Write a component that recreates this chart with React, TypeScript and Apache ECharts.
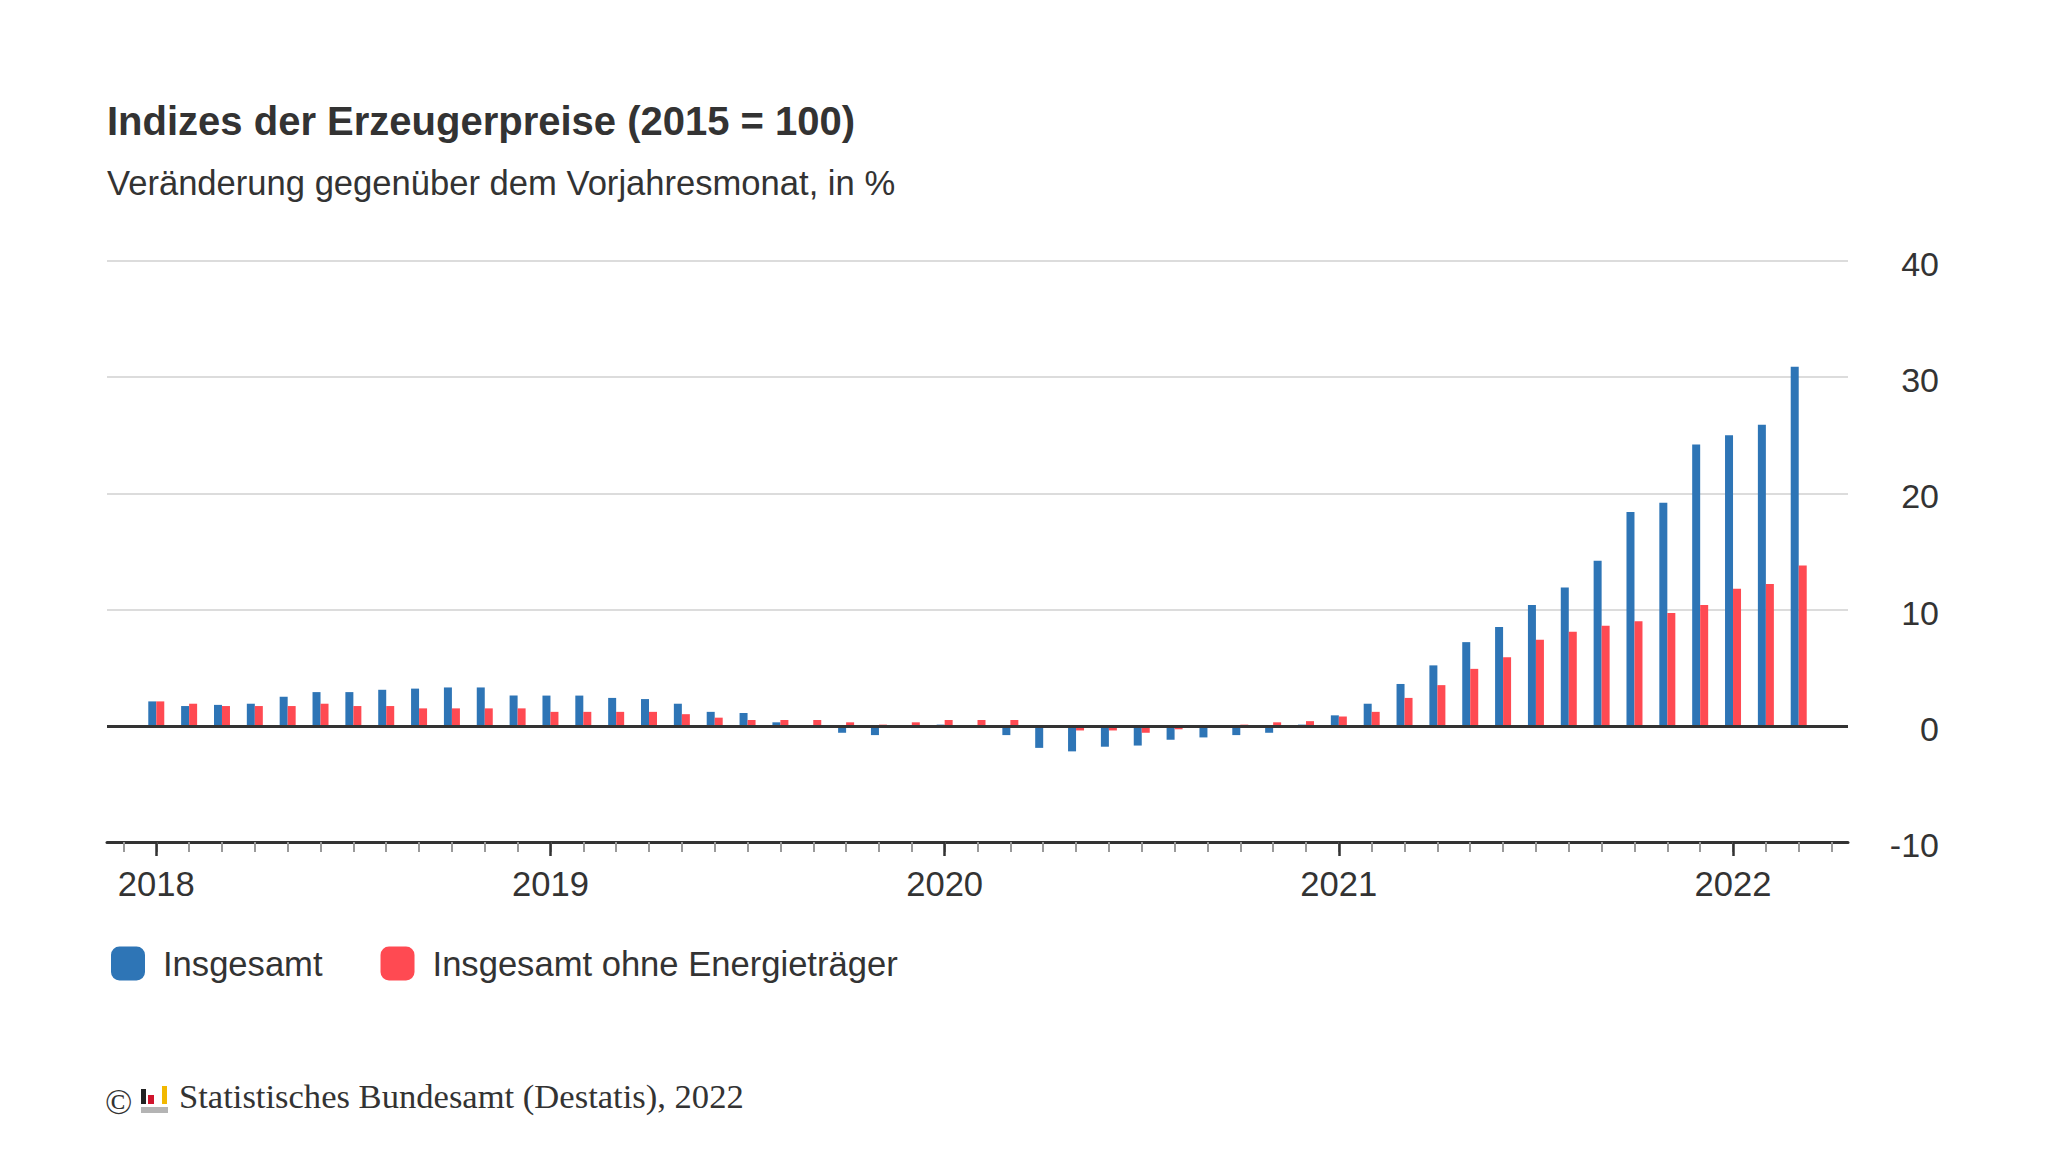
import React, { useEffect, useRef } from "react";
import * as echarts from "echarts";

// Monatskategorien (inkl. leerer Randmonate Dez 2017 und Apr 2022 für die Achse)
const months = [
  "2017-12",
  "2018-01", "2018-02", "2018-03", "2018-04", "2018-05", "2018-06",
  "2018-07", "2018-08", "2018-09", "2018-10", "2018-11", "2018-12",
  "2019-01", "2019-02", "2019-03", "2019-04", "2019-05", "2019-06",
  "2019-07", "2019-08", "2019-09", "2019-10", "2019-11", "2019-12",
  "2020-01", "2020-02", "2020-03", "2020-04", "2020-05", "2020-06",
  "2020-07", "2020-08", "2020-09", "2020-10", "2020-11", "2020-12",
  "2021-01", "2021-02", "2021-03", "2021-04", "2021-05", "2021-06",
  "2021-07", "2021-08", "2021-09", "2021-10", "2021-11", "2021-12",
  "2022-01", "2022-02", "2022-03",
  "2022-04",
];

// Jan 2018 – Mär 2022
const insgesamt = [
  2.1, 1.7, 1.8, 1.9, 2.5, 2.9, 2.9, 3.1, 3.2, 3.3, 3.3, 2.6,
  2.6, 2.6, 2.4, 2.3, 1.9, 1.2, 1.1, 0.3, -0.1, -0.6, -0.8, -0.1,
  0.1, -0.1, -0.8, -1.9, -2.2, -1.8, -1.7, -1.2, -1.0, -0.8, -0.6, 0.1,
  0.9, 1.9, 3.6, 5.2, 7.2, 8.5, 10.4, 11.9, 14.2, 18.4, 19.2, 24.2,
  25.0, 25.9, 30.9,
];

const ohneEnergie = [
  2.1, 1.9, 1.7, 1.7, 1.7, 1.9, 1.7, 1.7, 1.5, 1.5, 1.5, 1.5,
  1.2, 1.2, 1.2, 1.2, 1.0, 0.7, 0.5, 0.5, 0.5, 0.3, 0.1, 0.3,
  0.5, 0.5, 0.5, 0.0, -0.4, -0.4, -0.6, -0.3, 0.0, 0.1, 0.3, 0.4,
  0.8, 1.2, 2.4, 3.5, 4.9, 5.9, 7.4, 8.1, 8.6, 9.0, 9.7, 10.4,
  11.8, 12.2, 13.8,
];

const seriesNames = ["Insgesamt", "Insgesamt ohne Energieträger"];
const colors = ["#2e75b6", "#ff4a52"];

const SANS = "'Liberation Sans', Arial, Helvetica, sans-serif";
const SERIF = "'Liberation Serif', 'Times New Roman', serif";

const isJanuary = (_i: number, v: string) => v.endsWith("-01");

const App: React.FC = () => {
  const chartRef = useRef<HTMLDivElement>(null);

  useEffect(() => {
    if (!chartRef.current) return;
    const chart = echarts.init(chartRef.current, undefined, { renderer: "svg" });

    const pad = (arr: number[]) => ["-", ...arr, "-"];

    const option: any = {
      animation: false,
      backgroundColor: "#ffffff",
      title: {
        text: "Indizes der Erzeugerpreise (2015 = 100)",
        subtext: "Veränderung gegenüber dem Vorjahresmonat, in %",
        left: 107,
        top: 97,
        padding: 0,
        itemGap: 18,
        textStyle: {
          fontFamily: SANS,
          fontSize: 40,
          fontWeight: "bold",
          color: "#333333",
          lineHeight: 48,
        },
        subtextStyle: {
          fontFamily: SANS,
          fontSize: 34.6,
          color: "#333333",
          lineHeight: 40,
        },
      },
      legend: {
        left: 111,
        top: 946,
        padding: 0,
        itemWidth: 34,
        itemHeight: 34,
        itemGap: 58,
        icon: "roundRect",
        itemStyle: { borderRadius: 3 },
        textStyle: {
          fontFamily: SANS,
          fontSize: 34.6,
          color: "#333333",
          padding: [0, 0, 0, 13],
        },
        data: seriesNames,
      },
      grid: {
        left: 107,
        right: 200,
        top: 261,
        height: 581,
      },
      xAxis: [
        {
          type: "category",
          data: months,
          position: "bottom",
          boundaryGap: true,
          axisLine: { show: true, onZero: false, lineStyle: { color: "#333333", width: 3 } },
          axisTick: {
            show: true,
            alignWithLabel: true,
            interval: 0,
            length: 10,
            lineStyle: { color: "#9a9a9a", width: 2 },
          },
          axisLabel: { show: true, interval: 0, formatter: () => "" },
          splitLine: { show: false },
          z: 3,
        },
        {
          type: "category",
          data: months,
          position: "bottom",
          boundaryGap: true,
          axisLine: { show: false, onZero: false },
          axisTick: {
            show: true,
            alignWithLabel: true,
            interval: isJanuary,
            length: 14,
            lineStyle: { color: "#333333", width: 2.5 },
          },
          axisLabel: {
            show: true,
            interval: isJanuary,
            formatter: (v: string) => v.slice(0, 4),
            fontFamily: SANS,
            fontSize: 34.6,
            color: "#333333",
            margin: 24,
          },
          splitLine: { show: false },
          z: 4,
        },
      ],
      yAxis: {
        type: "value",
        position: "right",
        min: -10,
        max: 40,
        interval: 10,
        axisLine: { show: false },
        axisTick: { show: false },
        axisLabel: {
          align: "right",
          verticalAlign: "top",
          lineHeight: 6,
          margin: 91,
          fontFamily: SANS,
          fontSize: 34,
          color: "#333333",
        },
        splitLine: { lineStyle: { color: "#dcdcdc", width: 2 } },
      },
      series: [
        {
          name: seriesNames[0],
          type: "bar",
          xAxisIndex: 0,
          data: pad(insgesamt),
          barWidth: 8,
          barGap: "0%",
          itemStyle: { color: colors[0] },
        },
        {
          name: seriesNames[1],
          type: "bar",
          xAxisIndex: 0,
          data: pad(ohneEnergie),
          barWidth: 8,
          barGap: "0%",
          itemStyle: { color: colors[1] },
          markLine: {
            silent: true,
            symbol: "none",
            label: { show: false },
            lineStyle: { color: "#333333", width: 3, type: "solid" },
            data: [{ yAxis: 0 }],
          },
        },
      ],
      graphic: [
        {
          type: "text",
          left: 105,
          top: 1084,
          style: { text: "©", font: `36px ${SERIF}`, fill: "#333333" },
        },
        {
          type: "group",
          left: 141,
          top: 1086,
          children: [
            { type: "rect", shape: { x: 0, y: 3, width: 5, height: 15 }, style: { fill: "#222222" } },
            { type: "rect", shape: { x: 7, y: 9, width: 6, height: 9 }, style: { fill: "#d0142c" } },
            { type: "rect", shape: { x: 21, y: 0, width: 5, height: 18 }, style: { fill: "#f2b800" } },
            { type: "rect", shape: { x: 0, y: 21, width: 27, height: 6 }, style: { fill: "#b4b4b4" } },
          ],
        },
        {
          type: "text",
          left: 179,
          top: 1078,
          style: {
            text: "Statistisches Bundesamt (Destatis), 2022",
            font: `34.6px ${SERIF}`,
            fill: "#333333",
          },
        },
      ],
    };

    chart.setOption(option);

    const handleResize = () => chart.resize();
    window.addEventListener("resize", handleResize);

    return () => {
      window.removeEventListener("resize", handleResize);
      chart.dispose();
    };
  }, []);

  return (
    <div
      ref={chartRef}
      style={{ position: "fixed", left: 0, top: 0, width: 2048, height: 1152, background: "#fff" }}
    />
  );
};

export default App;
